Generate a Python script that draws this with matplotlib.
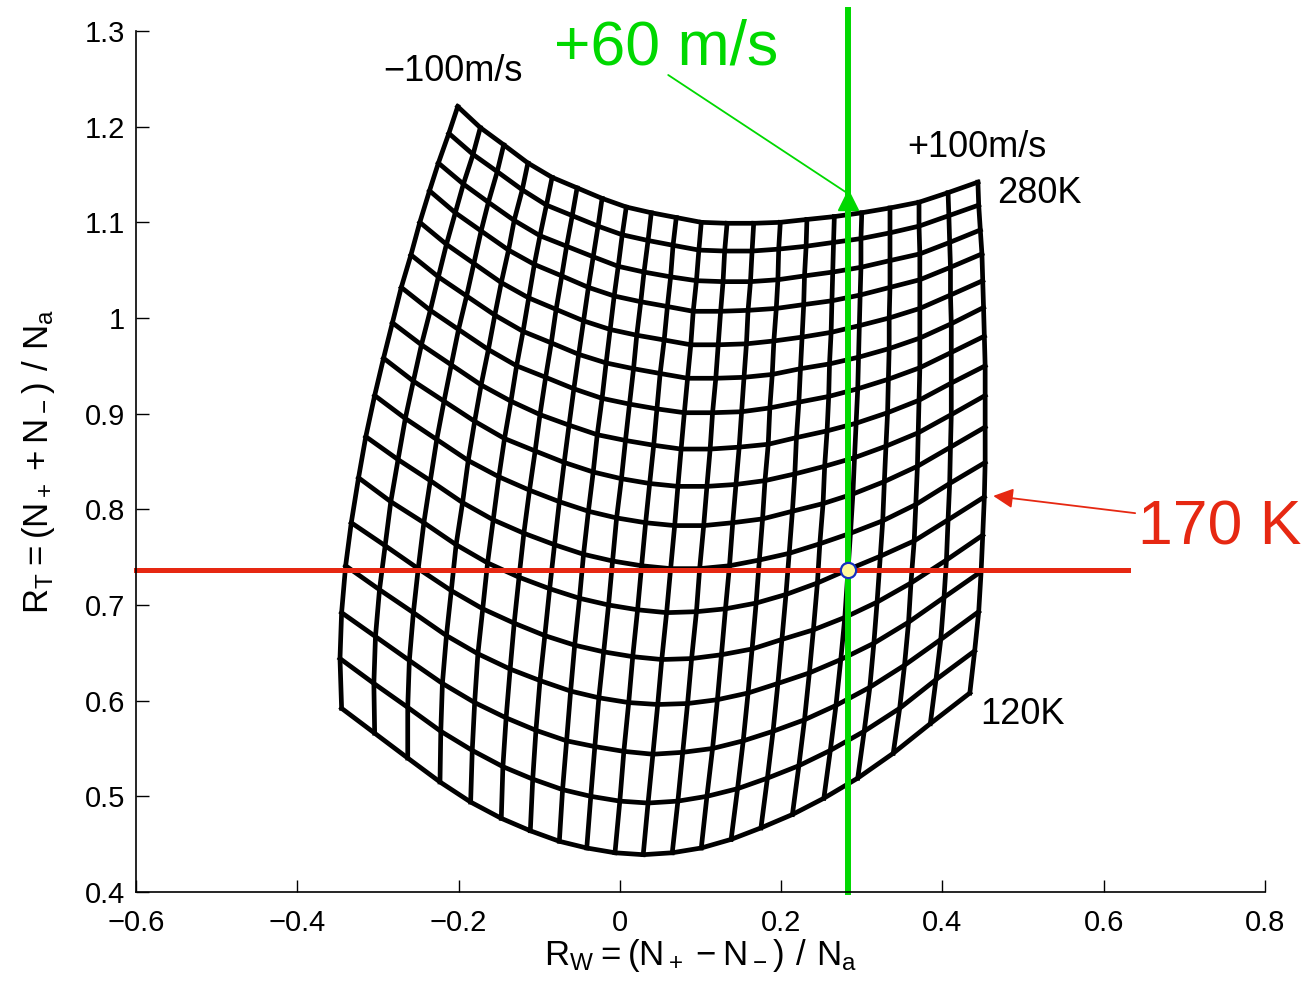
import numpy as np
import matplotlib
matplotlib.use("Agg")
import matplotlib.pyplot as plt

plt.rcParams['font.family'] = ['Liberation Sans', 'DejaVu Sans']

# temperature lines (rows) and wind lines (columns) of the mesh
temps = [280, 270, 260, 250, 240, 230, 220, 210, 200, 190, 180, 170, 160, 150, 140, 130, 120]
winds = [-100, -90, -80, -70, -60, -50, -40, -30, -20, -10, 0, 10, 20, 30, 40, 50, 60, 70, 80, 90, 100]

# R_W at each (temperature, wind) node
rw = np.array([
    [-0.201, -0.173, -0.144, -0.114, -0.084, -0.053, -0.022, 0.008, 0.039, 0.070, 0.101, 0.133, 0.166, 0.199, 0.232, 0.266, 0.300, 0.335, 0.371, 0.407, 0.444],
    [-0.212, -0.182, -0.152, -0.121, -0.091, -0.059, -0.027, 0.003, 0.035, 0.066, 0.098, 0.130, 0.164, 0.197, 0.231, 0.265, 0.299, 0.335, 0.371, 0.408, 0.445],
    [-0.225, -0.194, -0.163, -0.131, -0.099, -0.066, -0.033, -0.002, 0.030, 0.063, 0.095, 0.128, 0.162, 0.196, 0.229, 0.264, 0.299, 0.335, 0.372, 0.409, 0.447],
    [-0.236, -0.204, -0.172, -0.138, -0.106, -0.072, -0.039, -0.007, 0.026, 0.059, 0.091, 0.125, 0.159, 0.194, 0.228, 0.263, 0.298, 0.335, 0.372, 0.410, 0.449],
    [-0.248, -0.215, -0.181, -0.147, -0.113, -0.079, -0.045, -0.012, 0.021, 0.055, 0.088, 0.122, 0.157, 0.191, 0.226, 0.262, 0.297, 0.334, 0.372, 0.410, 0.450],
    [-0.259, -0.225, -0.190, -0.155, -0.120, -0.085, -0.051, -0.017, 0.017, 0.050, 0.084, 0.119, 0.154, 0.189, 0.224, 0.260, 0.296, 0.334, 0.372, 0.411, 0.451],
    [-0.271, -0.235, -0.200, -0.163, -0.128, -0.092, -0.057, -0.022, 0.012, 0.046, 0.080, 0.115, 0.151, 0.186, 0.222, 0.259, 0.295, 0.333, 0.372, 0.411, 0.452],
    [-0.282, -0.246, -0.209, -0.172, -0.135, -0.099, -0.063, -0.028, 0.007, 0.042, 0.076, 0.112, 0.148, 0.184, 0.219, 0.257, 0.293, 0.332, 0.371, 0.411, 0.453],
    [-0.293, -0.256, -0.218, -0.180, -0.143, -0.105, -0.069, -0.033, 0.002, 0.037, 0.072, 0.108, 0.144, 0.180, 0.217, 0.254, 0.291, 0.330, 0.370, 0.411, 0.453],
    [-0.304, -0.266, -0.227, -0.188, -0.150, -0.112, -0.075, -0.039, -0.004, 0.032, 0.068, 0.104, 0.140, 0.177, 0.214, 0.252, 0.289, 0.328, 0.369, 0.410, 0.453],
    [-0.315, -0.275, -0.235, -0.195, -0.157, -0.119, -0.081, -0.045, -0.009, 0.027, 0.063, 0.099, 0.136, 0.173, 0.210, 0.248, 0.286, 0.326, 0.367, 0.409, 0.453],
    [-0.324, -0.284, -0.243, -0.203, -0.164, -0.125, -0.087, -0.050, -0.014, 0.022, 0.058, 0.095, 0.131, 0.169, 0.206, 0.245, 0.283, 0.323, 0.365, 0.407, 0.452],
    [-0.333, -0.291, -0.250, -0.209, -0.170, -0.131, -0.093, -0.056, -0.020, 0.016, 0.052, 0.089, 0.126, 0.164, 0.201, 0.240, 0.279, 0.319, 0.361, 0.405, 0.450],
    [-0.340, -0.298, -0.256, -0.215, -0.176, -0.136, -0.099, -0.061, -0.026, 0.011, 0.047, 0.084, 0.121, 0.159, 0.196, 0.235, 0.274, 0.315, 0.358, 0.402, 0.448],
    [-0.345, -0.303, -0.261, -0.220, -0.180, -0.141, -0.104, -0.066, -0.031, 0.005, 0.041, 0.078, 0.115, 0.153, 0.190, 0.229, 0.268, 0.310, 0.353, 0.398, 0.445],
    [-0.347, -0.305, -0.263, -0.222, -0.183, -0.145, -0.108, -0.071, -0.036, 0.000, 0.035, 0.072, 0.108, 0.146, 0.183, 0.222, 0.261, 0.303, 0.347, 0.392, 0.440],
    [-0.345, -0.304, -0.263, -0.223, -0.185, -0.147, -0.111, -0.075, -0.041, -0.006, 0.029, 0.065, 0.101, 0.138, 0.175, 0.214, 0.253, 0.295, 0.339, 0.385, 0.434],
])

# R_T at each (temperature, wind) node
rt = np.array([
    [1.221, 1.199, 1.181, 1.162, 1.147, 1.136, 1.125, 1.116, 1.110, 1.105, 1.100, 1.099, 1.099, 1.100, 1.103, 1.106, 1.110, 1.115, 1.121, 1.131, 1.142],
    [1.193, 1.171, 1.153, 1.134, 1.118, 1.107, 1.096, 1.087, 1.081, 1.076, 1.071, 1.070, 1.070, 1.072, 1.075, 1.079, 1.083, 1.089, 1.096, 1.107, 1.118],
    [1.162, 1.140, 1.121, 1.102, 1.086, 1.075, 1.064, 1.054, 1.048, 1.043, 1.039, 1.038, 1.038, 1.040, 1.044, 1.048, 1.053, 1.060, 1.067, 1.079, 1.092],
    [1.133, 1.110, 1.091, 1.071, 1.056, 1.044, 1.032, 1.023, 1.017, 1.012, 1.007, 1.007, 1.008, 1.010, 1.014, 1.018, 1.024, 1.032, 1.040, 1.053, 1.067],
    [1.100, 1.077, 1.057, 1.037, 1.021, 1.009, 0.997, 0.988, 0.982, 0.977, 0.972, 0.972, 0.973, 0.976, 0.980, 0.985, 0.992, 1.000, 1.010, 1.024, 1.039],
    [1.066, 1.043, 1.023, 1.003, 0.986, 0.974, 0.962, 0.953, 0.947, 0.942, 0.937, 0.937, 0.938, 0.941, 0.947, 0.952, 0.959, 0.968, 0.979, 0.994, 1.011],
    [1.032, 1.008, 0.988, 0.967, 0.950, 0.938, 0.926, 0.916, 0.910, 0.905, 0.901, 0.901, 0.902, 0.906, 0.912, 0.918, 0.926, 0.936, 0.948, 0.964, 0.981],
    [0.995, 0.972, 0.951, 0.930, 0.913, 0.899, 0.888, 0.878, 0.872, 0.867, 0.863, 0.863, 0.865, 0.868, 0.875, 0.882, 0.890, 0.901, 0.914, 0.932, 0.950],
    [0.958, 0.934, 0.913, 0.892, 0.874, 0.861, 0.849, 0.839, 0.832, 0.827, 0.824, 0.824, 0.826, 0.830, 0.837, 0.845, 0.854, 0.866, 0.880, 0.899, 0.919],
    [0.919, 0.895, 0.873, 0.851, 0.834, 0.820, 0.808, 0.798, 0.791, 0.786, 0.783, 0.783, 0.786, 0.790, 0.798, 0.806, 0.816, 0.829, 0.845, 0.865, 0.886],
    [0.876, 0.852, 0.830, 0.807, 0.789, 0.775, 0.763, 0.753, 0.746, 0.741, 0.738, 0.738, 0.741, 0.747, 0.754, 0.764, 0.775, 0.788, 0.805, 0.827, 0.849],
    [0.833, 0.808, 0.786, 0.763, 0.744, 0.729, 0.717, 0.707, 0.700, 0.695, 0.692, 0.693, 0.696, 0.702, 0.711, 0.723, 0.737, 0.751, 0.767, 0.789, 0.813],
    [0.786, 0.762, 0.738, 0.715, 0.696, 0.681, 0.668, 0.658, 0.651, 0.646, 0.643, 0.644, 0.648, 0.654, 0.664, 0.674, 0.687, 0.703, 0.723, 0.747, 0.773],
    [0.741, 0.716, 0.692, 0.668, 0.649, 0.633, 0.621, 0.610, 0.603, 0.598, 0.596, 0.597, 0.601, 0.608, 0.618, 0.629, 0.643, 0.660, 0.682, 0.708, 0.735],
    [0.692, 0.667, 0.642, 0.618, 0.598, 0.582, 0.569, 0.558, 0.552, 0.547, 0.544, 0.546, 0.550, 0.558, 0.568, 0.580, 0.595, 0.614, 0.637, 0.664, 0.693],
    [0.644, 0.618, 0.593, 0.568, 0.548, 0.531, 0.518, 0.507, 0.500, 0.495, 0.493, 0.495, 0.500, 0.508, 0.519, 0.532, 0.548, 0.568, 0.592, 0.622, 0.652],
    [0.592, 0.566, 0.540, 0.515, 0.494, 0.477, 0.464, 0.453, 0.446, 0.441, 0.439, 0.441, 0.446, 0.455, 0.467, 0.481, 0.498, 0.519, 0.545, 0.576, 0.608],
])

# the highlighted measurement
sel_temp = 170
sel_wind = 60

green = '#00d800'
red = '#e62812'

fig = plt.figure(figsize=(13.06, 9.84), dpi=100)
ax = fig.add_axes([0.1041, 0.0935, 0.8645, 0.875])

for i in range(len(temps)):
    ax.plot(rw[i], rt[i], color='k', lw=3.4, solid_joinstyle='round')
for j in range(len(winds)):
    ax.plot(rw[:, j], rt[:, j], color='k', lw=3.4, solid_joinstyle='round')

i_sel = temps.index(sel_temp)
j_sel = winds.index(sel_wind)
x_sel = rw[i_sel, j_sel]
y_sel = rt[i_sel, j_sel]

# crosshair lines
ax.plot([-0.6, 0.63], [y_sel, y_sel], color=red, lw=3.6, clip_on=False)
ax.plot([x_sel, x_sel], [0.4, 1.322], color=green, lw=4.3, clip_on=False)
ax.plot(x_sel, y_sel, 'o', ms=11, mfc='#fff8a0', mec='#1530c0', mew=1.6, zorder=5)

# annotations
ax.text(0.058, 1.282, '+%d m/s' % sel_wind, color=green, fontsize=45,
        ha='center', va='center')
ax.annotate('', xy=(x_sel, 1.13), xytext=(0.060, 1.254),
            arrowprops=dict(arrowstyle='-', color=green, lw=1.3,
                            shrinkA=0, shrinkB=0), annotation_clip=False)
ax.plot(x_sel, 1.123, '^', ms=15, color=green, clip_on=False, zorder=4)

ax.text(0.744, 0.780, '%d K' % sel_temp, color=red, fontsize=45,
        ha='center', va='center', clip_on=False)
ax.annotate('', xy=(0.463, 0.814), xytext=(0.639, 0.796),
            arrowprops=dict(arrowstyle='-|>', color=red, lw=1.3,
                            mutation_scale=30, shrinkA=0, shrinkB=0),
            annotation_clip=False)

ax.text(-0.207, 1.258, '\u2212%dm/s' % abs(winds[0]), fontsize=26, ha='center', va='center')
ax.text(0.443, 1.178, '+%dm/s' % winds[-1], fontsize=26, ha='center', va='center')
ax.text(0.520, 1.130, '%dK' % temps[0], fontsize=26, ha='center', va='center')
ax.text(0.499, 0.586, '%dK' % temps[-1], fontsize=26, ha='center', va='center')

# axes styling (MATLAB look)
ax.set_xlim(-0.6, 0.8)
ax.set_ylim(0.4, 1.3)
xt = [-0.6, -0.4, -0.2, 0, 0.2, 0.4, 0.6, 0.8]
yt = [0.4, 0.5, 0.6, 0.7, 0.8, 0.9, 1.0, 1.1, 1.2, 1.3]
ax.set_xticks(xt)
ax.set_yticks(yt)
ax.set_xticklabels([('%g' % v).replace('-', '\u2212') for v in xt])
ax.set_yticklabels(['%g' % v for v in yt])
ax.tick_params(direction='in', length=9, width=1, labelsize=21)
ax.tick_params(axis='x', pad=12)
ax.tick_params(axis='y', pad=8)
for s in ['top', 'right']:
    ax.spines[s].set_visible(False)
for s in ['left', 'bottom']:
    ax.spines[s].set_linewidth(1.2)

ax.set_xlabel(r'$\mathregular{R_W = (N_+ - N_-)\ /\ N_a}$', fontsize=25, labelpad=0)
ax.set_ylabel(r'$\mathregular{R_T = (N_+ + N_-)\ /\ N_a}$', fontsize=25, labelpad=20)

plt.savefig('out.png', dpi=100)
